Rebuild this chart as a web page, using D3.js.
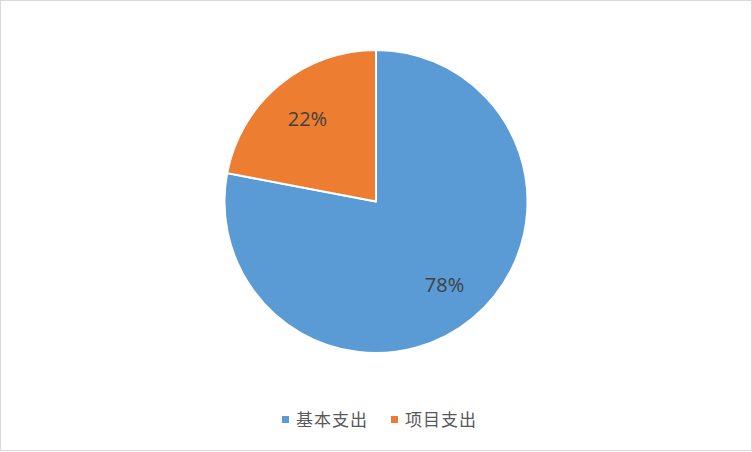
<!DOCTYPE html>
<html><head><meta charset="utf-8">
<script src="https://cdn.jsdelivr.net/npm/d3@7"></script>
<style>html,body{margin:0;padding:0;background:#fff;}svg{display:block;}</style>
</head><body>
<svg id="chart" width="752" height="452"></svg>
<script>
const categories = ["基本支出", "项目支出"];
const values = [78, 22];
const colors = ["#5B9BD5", "#ED7D31"];

const W = 752, H = 452;
const svg = d3.select("#chart");
svg.append("rect").attr("x", 0.5).attr("y", 0.5).attr("width", W - 1).attr("height", H - 2)
  .attr("fill", "#fff").attr("stroke", "#D9D9D9").attr("stroke-width", 1);

const cx = 376, cy = 201.5, r = 151.5;
const data = categories.map((c, i) => ({ name: c, value: values[i] }));
const pie = d3.pie().value(d => d.value).sort(null);
const arcs = pie(data);
const arc = d3.arc().innerRadius(0).outerRadius(r);
const g = svg.append("g").attr("transform", `translate(${cx},${cy})`);
const color = d3.scaleOrdinal().domain(categories).range(colors);

g.selectAll("path").data(arcs).join("path")
  .attr("d", arc)
  .attr("fill", d => color(d.data.name))
  .attr("stroke", "#fff").attr("stroke-width", 2).attr("stroke-linejoin", "round");

const total = d3.sum(values);
const labelArc = d3.arc().innerRadius(r * 0.71).outerRadius(r * 0.71);
g.selectAll("text.lbl").data(arcs).join("text")
  .attr("class", "lbl")
  .attr("transform", d => {
    const [x, y] = labelArc.centroid(d);
    return `translate(${x},${y})`;
  })
  .attr("text-anchor", "middle").attr("dy", "0.36em")
  .attr("font-family", "'Open Sans', 'Noto Sans', sans-serif").attr("font-size", 20)
  .attr("fill", "#404040")
  .text(d => Math.round(d.data.value / total * 100) + "%");

// legend
const legend = svg.append("g").attr("transform", "translate(0,420)");
const items = legend.selectAll("g").data(categories).join("g")
  .attr("transform", (d, i) => `translate(${282 + i * 109},0)`);
items.append("rect").attr("x", 0).attr("y", -4).attr("width", 7).attr("height", 7)
  .attr("fill", d => color(d));
items.append("text").attr("x", 14).attr("y", 0).attr("dy", "0.35em")
  .attr("font-family", "'Noto Sans CJK SC', sans-serif").attr("font-size", 17)
  .attr("letter-spacing", 1)
  .attr("fill", "#595959").text(d => d);
</script>
</body></html>
